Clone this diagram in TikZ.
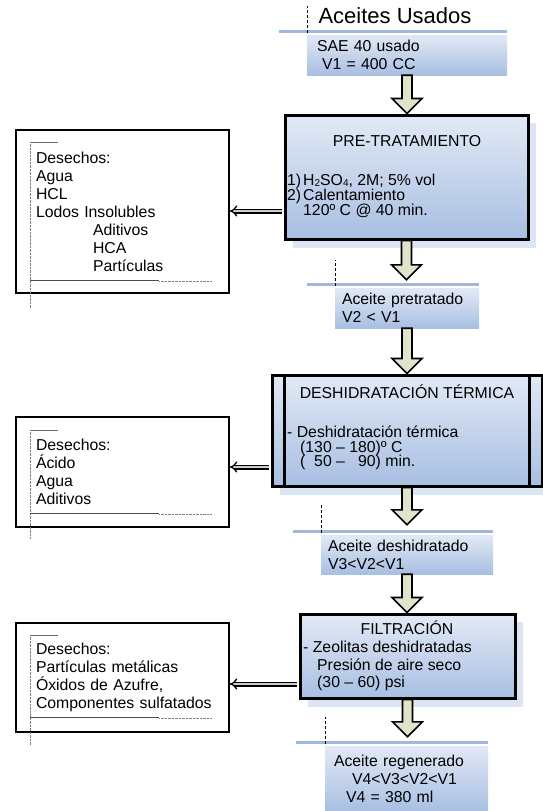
\documentclass[tikz,border=0pt]{standalone}
\usepackage{fontspec}
\setmainfont{Liberation Sans}
\usetikzlibrary{calc,arrows.meta,shadows}

\definecolor{azulclaro}{RGB}{226,233,245}
\definecolor{azuloscuro}{RGB}{168,191,226}
\definecolor{azullinea}{RGB}{160,184,222}
\definecolor{azulsombra}{RGB}{220,229,244}
\definecolor{verdeflecha}{RGB}{224,228,204}

\newcommand{\letra}{\fontsize{15.8}{18}\selectfont}
\newcommand{\subind}[1]{\raisebox{-0.8pt}{\fontsize{10}{10}\selectfont #1}}

% flecha gruesa hacia abajo entre dos puntos
\newcommand{\flechabloque}[2]{%
  \draw[bloque] let \p1=#1, \p2=#2 in
    (\x1-5pt,\y1) -- (\x1+5pt,\y1) -- (\x1+5pt,\y2+15pt) -- (\x1+15pt,\y2+15pt)
    -- (\x1,\y2) -- (\x1-15pt,\y2+15pt) -- (\x1-5pt,\y2+15pt) -- cycle;}

\tikzset{
  salida/.style={rectangle, top color=azulclaro, bottom color=azuloscuro,
    inner ysep=0pt, align=left, font=\letra},
  etapa/.style={rectangle, draw=black, line width=3pt,
    top color=azulclaro, bottom color=azuloscuro,
    drop shadow={shadow xshift=8pt, shadow yshift=-8pt,
      top color=azulsombra, bottom color=azulsombra, draw=none, opacity=1}},
  desecho/.style={rectangle, draw=black, line width=1.5pt, fill=white,
    text width=173pt, inner xsep=20pt, inner ysep=0pt, align=left, font=\letra},
  cuerpo/.style={inner sep=0pt, align=left},
  bloque/.style={fill=verdeflecha, draw=black, line width=1.6pt, line join=miter},
  lineaazul/.style={draw=azullinea, line width=3.3pt},
  guion/.style={line width=0.6pt, dash pattern=on 3pt off 2pt},
  desarrow/.style={draw=black, double=gray!40, double distance=2.4pt,
    line width=1.3pt, -{Implies[scale=1.4]}, shorten <=1.5pt},
}

\begin{document}
\lineskiplimit=-20pt
\begin{tikzpicture}[x=1pt,y=-1pt]
\useasboundingbox (0,0) rectangle (542,811);

% aceite de entrada
\node[anchor=west, font=\fontsize{22}{26}\selectfont] (titulo) at (315,16) {Aceites Usados};
\node[salida, text width=180pt, inner xsep=10pt, minimum height=40pt] (sae) at (407,55)
  {SAE 40 usado\\\hspace*{5pt}V1 = 400 CC};

% etapas
\node[etapa, minimum width=243pt, minimum height=124pt] (pre) at (406.5,177) {};
\node[anchor=base, font=\letra] (pretit) at (407,146.5) {PRE-TRATAMIENTO};
\node[cuerpo, anchor=north west, font=\fontsize{15.8}{15}\selectfont] (precuerpo) at (287,174)
  {\makebox[16pt][l]{1)}H\subind{2}SO\subind{4}, 2M; 5\% vol\\
   \makebox[16pt][l]{2)}Calentamiento\\
   \hspace*{16pt}120º C @ 40 min.};

\node[salida, text width=130pt, inner xsep=7pt, minimum height=40pt] (pret) at (407,308)
  {Aceite pretratado\\V2 < V1};

\node[etapa, minimum width=270pt, minimum height=111pt] (desh) at (407,430.5) {};
\draw[line width=3pt] ($(desh.north west)+(14,0)$) -- ($(desh.south west)+(14,0)$);
\draw[line width=3pt] ($(desh.north east)+(-14,0)$) -- ($(desh.south east)+(-14,0)$);
\node[anchor=base, font=\letra] (deshtit) at (407,398.7) {DESHIDRATACIÓN TÉRMICA};
\node[cuerpo, anchor=north west, font=\fontsize{15.8}{14.3}\selectfont] (deshcuerpo) at (287,426)
  {- Deshidratación térmica\\
   \hspace*{13pt}(130 – 180)º C\\
   \hspace*{13pt}(\ \ 50 –\ \ \ 90) min.};

\node[salida, text width=158pt, inner xsep=7pt, minimum height=39pt] (deshid) at (407,554.5)
  {Aceite deshidratado\\V3<V2<V1};

\node[etapa, minimum width=215pt, minimum height=84pt] (filt) at (407.5,656) {};
\node[anchor=base, font=\letra] (filttit) at (407,634.7) {FILTRACIÓN};
\node[cuerpo, anchor=north west, font=\fontsize{15.8}{17.6}\selectfont] (filtcuerpo) at (303,641)
  {- Zeolitas deshidratadas\\
   \hspace*{14pt}Presión de aire seco\\
   \hspace*{14pt}(30 – 60) psi};

\node[salida, text width=145pt, inner xsep=9pt, minimum height=65pt] (regen) at (406.5,778.5)
  {Aceite regenerado\\\hspace*{18pt}V4<V3<V2<V1\\\hspace*{12pt}V4 = 380 ml};

% lineas azules y guiones sobre las salidas
\draw[lineaazul] ($(sae.north west)+(-28,-3)$) -- ($(sae.north east)+(0,-3)$);
\draw[guion] ($(sae.north west)+(0,-2)$) -- ($(sae.north west)+(0,-29)$);
\draw[lineaazul] ($(pret.north west)+(-28,-3)$) -- ($(pret.north east)+(0,-3)$);
\draw[guion] ($(pret.north west)+(0,-2)$) -- ($(pret.north west)+(0,-28)$);
\draw[lineaazul] ($(deshid.north west)+(-28,-3)$) -- ($(deshid.north east)+(0,-3)$);
\draw[guion] ($(deshid.north west)+(0,-2)$) -- ($(deshid.north west)+(0,-30)$);
\draw[lineaazul] ($(regen.north west)+(-29,-3)$) -- ($(regen.north east)+(0,-3)$);
\draw[guion] ($(regen.north west)+(0,-2)$) -- ($(regen.north west)+(0,-29)$);

% desechos
\node[desecho, minimum height=163pt] (des1) at (122.5,211.5)
  {Desechos:\\Agua\\HCL\\Lodos Insolubles\\\hspace*{57pt}Aditivos\\\hspace*{57pt}HCA\\\hspace*{57pt}Partículas};
\node[desecho, minimum height=110pt] (des2) at (122.5,472)
  {Desechos:\\Ácido\\Agua\\Aditivos};
\node[desecho, minimum height=109pt] (des3) at (122.5,677.5)
  {Desechos:\\Partículas metálicas\\Óxidos de Azufre,\\\mbox{Componentes sulfatados}};

\draw[gray!80!black, line width=0.7pt] ($(des1.north west)+(15,13)$) -- ++(28,0);
\draw[gray, densely dotted] ($(des1.north west)+(15,13)$) -- ($(des1.south west)+(15,15)$);
\draw[gray!60!black, line width=0.8pt] ($(des1.south west)+(15,-13)$) -- ++(129,0);
\draw[gray, densely dotted] ($(des1.south west)+(144,-13)$) -- ++(53,0);

\draw[gray!80!black, line width=0.7pt] ($(des2.north west)+(15,14)$) -- ++(28,0);
\draw[gray, densely dotted] ($(des2.north west)+(15,14)$) -- ($(des2.south west)+(15,11)$);
\draw[gray!60!black, line width=0.8pt] ($(des2.south west)+(15,-14)$) -- ++(129,0);
\draw[gray, densely dotted] ($(des2.south west)+(144,-14)$) -- ++(53,0);

\draw[gray!80!black, line width=0.7pt] ($(des3.north west)+(15,13)$) -- ++(28,0);
\draw[gray, densely dotted] ($(des3.north west)+(15,13)$) -- ($(des3.south west)+(15,13)$);
\draw[gray!60!black, line width=0.8pt] ($(des3.south west)+(15,-15)$) -- ++(129,0);
\draw[gray, densely dotted] ($(des3.south west)+(144,-15)$) -- ++(53,0);

% flechas
\flechabloque{(sae.south)}{(pre.north)}
\flechabloque{(pre.south)}{($(pret.north)+(0,-8)$)}
\flechabloque{(pret.south)}{(desh.north)}
\flechabloque{(desh.south)}{($(deshid.north)+(0,-10)$)}
\flechabloque{(deshid.south)}{(filt.north)}
\flechabloque{(filt.south)}{($(regen.north)+(0,-9)$)}

\draw[desarrow] (pre.west |- 0,211) -- (des1.east |- 0,211);
\draw[desarrow] (desh.west |- 0,467) -- (des2.east |- 0,467);
\draw[desarrow] (filt.west |- 0,684) -- (des3.east |- 0,684);

\end{tikzpicture}
\end{document}
